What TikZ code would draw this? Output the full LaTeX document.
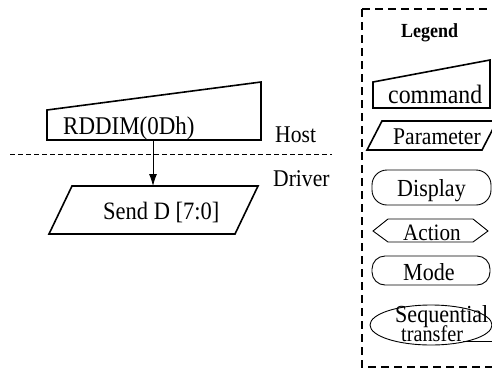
\documentclass[tikz,border=0pt]{standalone}
\usepackage{fontspec}
\setmainfont[FakeStretch=0.9]{Liberation Serif}
\usetikzlibrary{arrows.meta}
\begin{document}
\begin{tikzpicture}[x=1pt,y=-1pt,
  thickline/.style={draw=black,line width=1.6pt,line join=miter},
  thinline/.style={draw=black,line width=0.9pt},
  lbl/.style={inner sep=0pt,anchor=base west,text=black},
  fs/.style={font=\fontsize{#1}{#1}\selectfont}]
\clip (0,0) rectangle (492,370);
\fill[white] (0,0) rectangle (492,370);
% main command shape
\draw[thickline] (47,110) -- (261,82) -- (261,140) -- (47,140) -- cycle;
\node[lbl,fs=25.5] (rddim) at (63,134) {RDDIM(0Dh)};
% host/driver separator
\draw[line width=0.8pt,dash pattern=on 5pt off 3pt] (10,154) -- (332,154);
\node[lbl,fs=24] (host) at (275,142) {Host};
\node[lbl,fs=24] (driver) at (273,186) {Driver};
% parameter shape
\draw[thickline] (72,186) -- (258,186) -- (235,234) -- (49,234) -- cycle;
\node[lbl,fs=25] (send) at (103,219) {Send D [7:0]};
\coordinate (cmdbot) at (153,140);
\coordinate (partop) at (153,186);
\draw[line width=0.9pt,-{Latex[length=12pt,width=8pt]}] (cmdbot) -- (partop);
% legend box
\draw[line width=1.8pt,dash pattern=on 8pt off 5pt] (362,9) -- (362,367) -- (510,367);
\draw[line width=1.8pt,dash pattern=on 8pt off 5pt] (362,9) -- (510,9);
\node[lbl,font=\bfseries\fontsize{20}{20}\selectfont] (legend) at (401,37) {Legend};
% legend command
\draw[thickline] (373,82) -- (490,60) -- (490,108) -- (373,108) -- cycle;
\node[lbl,fs=26.5] (lcmd) at (388,103) {command};
% legend parameter
\draw[thickline] (382,121) -- (497,121) -- (482,150) -- (367,150) -- cycle;
\node[lbl,fs=24] (lpar) at (393,144) {Parameter};
% display
\draw[thinline,rounded corners=15pt] (372,170) rectangle (491,205);
\node[lbl,fs=24.5] (ldisp) at (397,196) {Display};
% action
\draw[thinline] (373,231) -- (388,219) -- (473,219) -- (488,231) -- (473,242) -- (388,242) -- cycle;
\node[lbl,fs=23.5] (lact) at (403,240) {Action};
% mode
\draw[thinline,rounded corners=13pt] (372,256) rectangle (490,285);
\node[lbl,fs=24.5] (lmode) at (403,280) {Mode};
% sequential transfer
\draw[thinline] (431,325) ellipse [x radius=61, y radius=20];
\draw[thinline] (463,341) -- (500,341);
\node[lbl,align=left,font=\fontsize{24.5}{17}\selectfont] (lseq) at (395,341)
  {Sequential\\[-4pt]\hspace*{6pt}\fontsize{22.5}{17}\selectfont transfer};
\end{tikzpicture}
\end{document}
